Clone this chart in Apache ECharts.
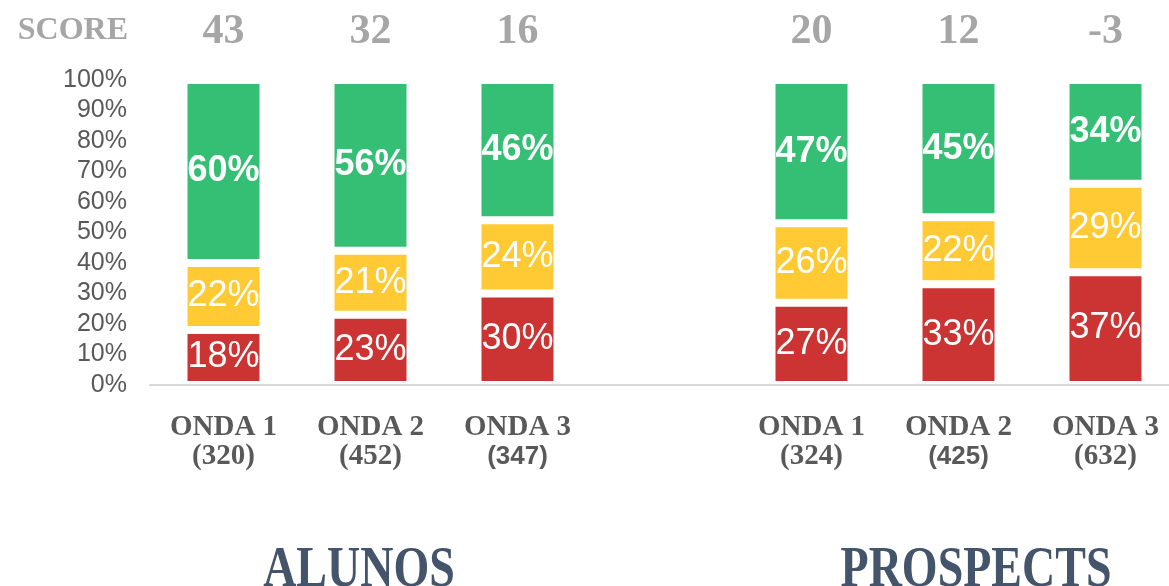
<!DOCTYPE html>
<html>
<head>
<meta charset="utf-8">
<script src="https://cdn.jsdelivr.net/npm/echarts@6/dist/echarts.min.js"></script>
<style>
  html, body { margin: 0; padding: 0; background: #fff; }
  #chart { width: 1169px; height: 586px; }
</style>
</head>
<body>
<div id="chart"></div>
<script>
// Waves per group; the empty slot separates ALUNOS from PROSPECTS
const categories = ['ONDA 1', 'ONDA 2', 'ONDA 3', '', 'ONDA 1', 'ONDA 2', 'ONDA 3'];
const sampleSizes = ['320', '452', '347', '', '324', '425', '632'];
const scores = ['43', '32', '16', '', '20', '12', '-3'];

// Share of answers per wave (%), bottom to top
const redShare = [18, 23, 30, null, 27, 33, 37];
const yellowShare = [22, 21, 24, null, 26, 22, 29];
const greenShare = [60, 56, 46, null, 47, 45, 34];

const groupTitles = ['ALUNOS', 'PROSPECTS'];
const scoreTitle = 'SCORE';

const SERIF = '"Liberation Serif", "Times New Roman", serif';
const SANS = '"Liberation Sans", Arial, sans-serif';

const chart = echarts.init(document.getElementById('chart'), null, { renderer: 'canvas' });

function barSeries(name, data, color, bold) {
  return {
    name: name,
    type: 'bar',
    stack: 'share',
    data: data,
    barWidth: 80,
    itemStyle: { color: color, borderColor: '#ffffff', borderWidth: 4 },
    label: {
      show: true,
      position: 'inside',
      formatter: p => p.value + '%',
      color: '#ffffff',
      fontFamily: SANS,
      fontSize: 36,
      fontWeight: bold ? 'bold' : 'normal'
    },
    emphasis: { disabled: true }
  };
}

function groupTitle(text, x) {
  return {
    type: 'text',
    x: x, y: 571,
    scaleY: 1.22,
    style: {
      text: text, textAlign: 'center', textVerticalAlign: 'middle',
      font: 'bold 46px ' + SERIF, fill: '#44546a'
    }
  };
}

chart.setOption({
  animation: false,
  grid: { left: 150, top: 80, width: 1029, height: 305, containLabel: false, outerBoundsMode: 'none' },
  xAxis: [
    {
      type: 'category',
      data: categories,
      position: 'bottom',
      z: 5,
      axisLine: { show: true, lineStyle: { color: '#d9d9d9', width: 2 } },
      axisTick: { show: false },
      axisLabel: {
        interval: 0,
        margin: 28,
        formatter: (v, i) => {
          if (!v) return '';
          const cnt = '(' + sampleSizes[i] + ')';
          return '{t|' + v + '}\n' + (i === 2 || i === 5 ? '{s|' + cnt + '}' : '{t|' + cnt + '}');
        },
        rich: {
          t: { fontFamily: SERIF, fontWeight: 'bold', fontSize: 29, color: '#595959', lineHeight: 29 },
          s: { fontFamily: SANS, fontWeight: 'bold', fontSize: 26, color: '#595959', lineHeight: 29 }
        }
      }
    },
    {
      type: 'category',
      data: categories,
      position: 'top',
      axisLine: { show: false },
      axisTick: { show: false },
      axisLabel: {
        interval: 0,
        margin: 27,
        formatter: (v, i) => scores[i],
        fontFamily: SERIF,
        fontWeight: 'bold',
        fontSize: 42,
        color: '#a6a6a6'
      }
    }
  ],
  yAxis: {
    type: 'value',
    min: 0,
    max: 100,
    interval: 10,
    axisLine: { show: false },
    axisTick: { show: false },
    splitLine: { show: false },
    axisLabel: {
      margin: 23,
      formatter: '{value}%',
      fontFamily: SANS,
      fontSize: 25,
      color: '#595959'
    }
  },
  series: [
    barSeries('red', redShare, '#cc3333', false),
    barSeries('yellow', yellowShare, '#ffca33', false),
    barSeries('green', greenShare, '#35bf75', true)
  ],
  graphic: [
    {
      type: 'text',
      x: 128, y: 31,
      style: {
        text: scoreTitle, textAlign: 'right', textVerticalAlign: 'middle',
        font: 'bold 32px ' + SERIF, fill: '#a6a6a6'
      }
    },
    groupTitle(groupTitles[0], 359),
    groupTitle(groupTitles[1], 976)
  ]
});
</script>
</body>
</html>
